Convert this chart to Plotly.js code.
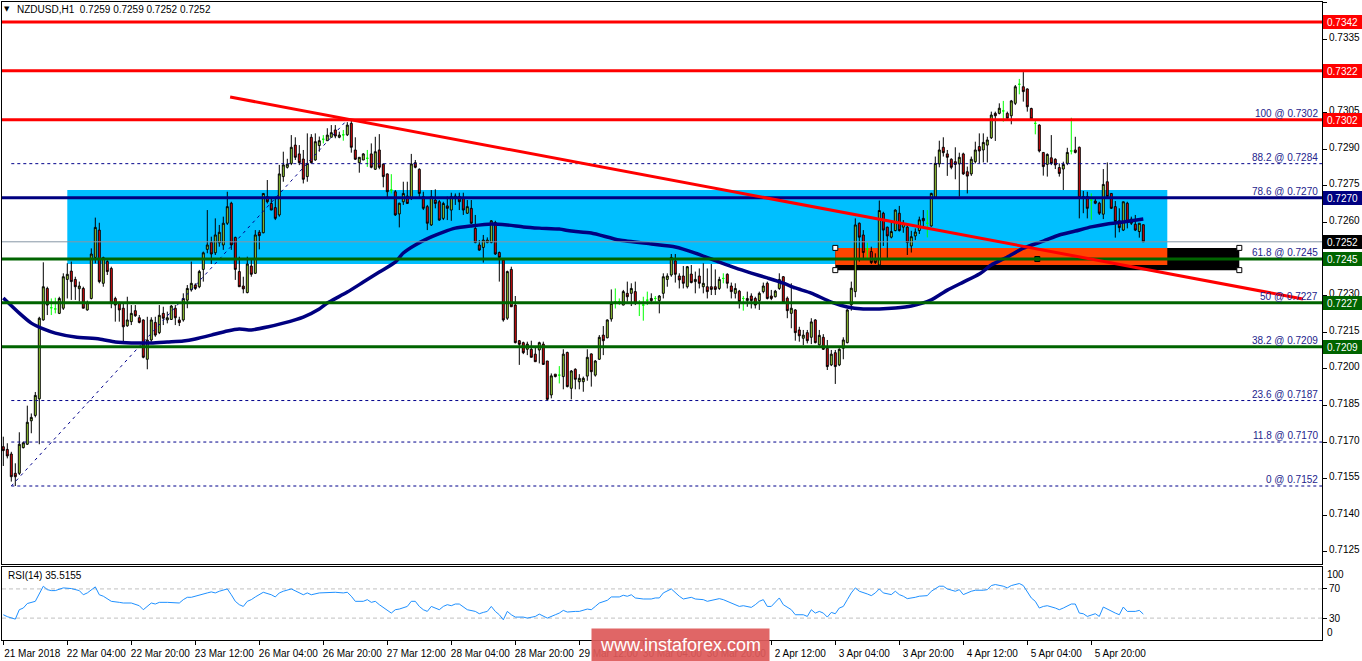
<!DOCTYPE html>
<html><head><meta charset="utf-8">
<script src="https://cdn.plot.ly/plotly-3.0.1.min.js"></script>
<style>html,body{margin:0;padding:0;background:#fff;overflow:hidden}#chart{width:1362px;height:661px}</style>
</head><body><div id="chart"></div>
<script>
// ---------- DATA ----------
const symbolTitle = 'NZDUSD,H1\u00a0\u00a00.7259 0.7259 0.7252 0.7252';
const rsiTitle = 'RSI(14) 35.5155';

// H1 bars, index 0 = 21 Mar 2018 12:00
const openP = [
0.71681,0.71670,0.71651,0.71572,0.71572,0.71677,0.71691,0.71787,0.71809,0.71877,
0.72200,0.72329,0.72250,0.72245,0.72227,0.72248,0.72366,0.72400,0.72366,0.72328,
0.72329,0.72241,0.72288,0.72456,0.72568,0.72350,0.72439,0.72411,0.72288,0.72268,
0.72248,0.72176,0.72193,0.72238,0.72209,0.72200,0.72039,0.72118,0.72190,0.72148,
0.72227,0.72200,0.72202,0.72248,0.72200,0.72200,0.72281,0.72323,0.72343,0.72336,
0.72407,0.72489,0.72518,0.72475,0.72516,0.72507,0.72596,0.72678,0.72538,0.72398,
0.72339,0.72312,0.72421,0.72391,0.72559,0.72557,0.72705,0.72677,0.72660,0.72630,
0.72787,0.72825,0.72841,0.72916,0.72880,0.72859,0.72787,0.72948,0.72855,0.72914,
0.72940,0.72934,0.72948,0.72978,0.72948,0.72958,0.72958,0.73005,0.72896,0.72844,
0.72855,0.72862,0.72880,0.72817,0.72896,0.72838,0.72798,0.72732,0.72725,0.72634,
0.72684,0.72707,0.72698,0.72844,0.72817,0.72705,0.72664,0.72589,0.72691,0.72684,
0.72616,0.72667,0.72650,0.72698,0.72705,0.72698,0.72637,0.72657,0.72575,0.72507,
0.72497,0.72517,0.72517,0.72599,0.72476,0.72445,0.72207,0.72407,0.72261,0.72115,
0.72107,0.72080,0.72080,0.72060,0.72077,0.72101,0.72032,0.71893,0.71978,0.71974,
0.71968,0.72067,0.71920,0.71998,0.71947,0.71947,0.71970,0.72061,0.71974,0.72039,
0.72138,0.72127,0.72204,0.72275,0.72275,0.72261,0.72309,0.72309,0.72316,0.72268,
0.72261,0.72281,0.72288,0.72288,0.72279,0.72309,0.72366,0.72384,0.72442,0.72380,
0.72380,0.72336,0.72388,0.72357,0.72380,0.72336,0.72336,0.72336,0.72336,0.72329,
0.72370,0.72387,0.72339,0.72309,0.72318,0.72288,0.72279,0.72298,0.72288,0.72279,
0.72316,0.72350,0.72298,0.72295,0.72329,0.72377,0.72289,0.72227,0.72241,0.72159,
0.72125,0.72148,0.72129,0.72200,0.72098,0.72129,0.72084,0.72016,0.72066,0.72016,
0.72084,0.72107,0.72262,0.72316,0.72596,0.72548,0.72490,0.72480,0.72452,0.72425,
0.72637,0.72580,0.72539,0.72566,0.72637,0.72580,0.72580,0.72503,0.72544,0.72566,
0.72616,0.72596,0.72585,0.72703,0.72839,0.72907,0.72880,0.72858,0.72848,0.72839,
0.72880,0.72807,0.72798,0.72848,0.72910,0.72896,0.72916,0.72946,0.73046,0.73046,
0.73056,0.73046,0.73036,0.73087,0.73165,0.73155,0.73146,0.73066,0.73005,0.72998,
0.72886,0.72837,0.72864,0.72858,0.72824,0.72818,0.72841,0.72892,0.72896,0.72907,
0.72705,0.72705,0.72691,0.72687,0.72678,0.72633,0.72766,0.72718,0.72664,0.72606,
0.72568,0.72678,0.72613,0.72592,0.72562,0.72590];
const highP = [
0.71722,0.71695,0.71660,0.71613,0.71740,0.71702,0.71849,0.71817,0.71905,0.72213,
0.72436,0.72336,0.72288,0.72291,0.72295,0.72391,0.72432,0.72439,0.72377,0.72357,
0.72336,0.72279,0.72493,0.72619,0.72598,0.72459,0.72452,0.72418,0.72295,0.72275,
0.72268,0.72295,0.72261,0.72261,0.72220,0.72202,0.72213,0.72211,0.72213,0.72261,
0.72254,0.72234,0.72261,0.72261,0.72213,0.72309,0.72343,0.72439,0.72350,0.72405,
0.72480,0.72650,0.72541,0.72616,0.72589,0.72623,0.72725,0.72684,0.72541,0.72459,
0.72377,0.72459,0.72452,0.72568,0.72568,0.72718,0.72773,0.72698,0.72705,0.72835,
0.72889,0.72860,0.72957,0.72948,0.72916,0.72896,0.72964,0.72961,0.72964,0.72951,
0.72957,0.72985,0.72998,0.72998,0.72971,0.72978,0.73010,0.73020,0.72948,0.72866,
0.72883,0.72896,0.72923,0.72950,0.72961,0.72841,0.72800,0.72797,0.72732,0.72680,
0.72766,0.72766,0.72880,0.72855,0.72821,0.72725,0.72671,0.72732,0.72735,0.72691,
0.72684,0.72705,0.72721,0.72718,0.72721,0.72721,0.72691,0.72691,0.72630,0.72527,
0.72548,0.72538,0.72609,0.72606,0.72480,0.72445,0.72402,0.72418,0.72298,0.72118,
0.72111,0.72111,0.72115,0.72090,0.72111,0.72111,0.72032,0.71981,0.71978,0.72011,
0.72080,0.72070,0.71995,0.72002,0.71978,0.71968,0.72080,0.72063,0.72036,0.72138,
0.72175,0.72202,0.72325,0.72329,0.72288,0.72323,0.72357,0.72350,0.72357,0.72281,
0.72295,0.72316,0.72309,0.72298,0.72302,0.72391,0.72391,0.72470,0.72470,0.72391,
0.72421,0.72421,0.72425,0.72398,0.72411,0.72432,0.72411,0.72429,0.72407,0.72377,
0.72391,0.72391,0.72353,0.72350,0.72323,0.72298,0.72316,0.72309,0.72295,0.72316,
0.72353,0.72357,0.72323,0.72323,0.72391,0.72380,0.72296,0.72350,0.72244,0.72172,
0.72159,0.72159,0.72207,0.72203,0.72159,0.72142,0.72118,0.72077,0.72077,0.72084,
0.72129,0.72244,0.72357,0.72616,0.72599,0.72568,0.72517,0.72500,0.72473,0.72689,
0.72643,0.72582,0.72602,0.72653,0.72667,0.72609,0.72589,0.72565,0.72575,0.72623,
0.72650,0.72650,0.72721,0.72869,0.72934,0.72948,0.72896,0.72862,0.72907,0.72885,
0.72885,0.72828,0.72869,0.72930,0.72964,0.72964,0.72950,0.73053,0.73053,0.73087,
0.73097,0.73053,0.73101,0.73162,0.73187,0.73215,0.73148,0.73069,0.73023,0.73001,
0.72886,0.72882,0.72957,0.72862,0.72841,0.72848,0.72905,0.73028,0.72950,0.72910,
0.72728,0.72725,0.72718,0.72698,0.72684,0.72818,0.72845,0.72718,0.72687,0.72657,
0.72684,0.72684,0.72623,0.72630,0.72596,0.72590];
const lowP = [
0.71602,0.71633,0.71538,0.71520,0.71565,0.71674,0.71688,0.71736,0.71801,0.71691,
0.72197,0.72220,0.72220,0.72227,0.72224,0.72241,0.72288,0.72282,0.72282,0.72275,
0.72248,0.72238,0.72284,0.72432,0.72350,0.72336,0.72384,0.72248,0.72193,0.72193,
0.72111,0.72172,0.72179,0.72213,0.72186,0.72043,0.71998,0.72111,0.72131,0.72142,
0.72179,0.72186,0.72200,0.72179,0.72175,0.72193,0.72248,0.72316,0.72323,0.72330,
0.72357,0.72473,0.72429,0.72466,0.72500,0.72487,0.72589,0.72487,0.72364,0.72336,
0.72309,0.72309,0.72377,0.72388,0.72489,0.72555,0.72677,0.72650,0.72609,0.72623,
0.72766,0.72820,0.72834,0.72855,0.72834,0.72759,0.72766,0.72841,0.72852,0.72889,
0.72923,0.72934,0.72948,0.72944,0.72944,0.72934,0.72953,0.72885,0.72855,0.72803,
0.72855,0.72827,0.72821,0.72814,0.72817,0.72743,0.72702,0.72718,0.72626,0.72579,
0.72671,0.72677,0.72691,0.72821,0.72698,0.72650,0.72568,0.72585,0.72657,0.72606,
0.72609,0.72609,0.72606,0.72671,0.72650,0.72630,0.72634,0.72593,0.72514,0.72483,
0.72435,0.72514,0.72514,0.72466,0.72357,0.72193,0.72200,0.72254,0.72104,0.72016,
0.72060,0.72056,0.72047,0.72029,0.72022,0.72016,0.71872,0.71879,0.71965,0.71940,
0.71916,0.71924,0.71875,0.71916,0.71916,0.71906,0.71951,0.71927,0.71968,0.72036,
0.72056,0.72125,0.72193,0.72247,0.72261,0.72260,0.72275,0.72257,0.72261,0.72216,
0.72197,0.72261,0.72265,0.72275,0.72227,0.72288,0.72336,0.72377,0.72353,0.72329,
0.72329,0.72329,0.72350,0.72309,0.72329,0.72309,0.72288,0.72302,0.72302,0.72323,
0.72350,0.72329,0.72288,0.72288,0.72247,0.72238,0.72254,0.72247,0.72247,0.72241,
0.72309,0.72284,0.72281,0.72292,0.72323,0.72268,0.72207,0.72166,0.72115,0.72111,
0.72097,0.72104,0.72101,0.72104,0.72094,0.72077,0.71995,0.72011,0.71938,0.72011,
0.72039,0.72104,0.72238,0.72293,0.72439,0.72452,0.72452,0.72429,0.72429,0.72421,
0.72503,0.72452,0.72534,0.72563,0.72562,0.72557,0.72466,0.72476,0.72527,0.72552,
0.72579,0.72538,0.72582,0.72698,0.72825,0.72869,0.72790,0.72817,0.72776,0.72705,
0.72794,0.72718,0.72790,0.72841,0.72841,0.72845,0.72845,0.72941,0.72933,0.73042,
0.73012,0.73023,0.73001,0.73080,0.73124,0.73094,0.73053,0.73019,0.72960,0.72886,
0.72791,0.72787,0.72834,0.72818,0.72787,0.72732,0.72834,0.72878,0.72882,0.72616,
0.72637,0.72616,0.72610,0.72674,0.72630,0.72613,0.72698,0.72654,0.72537,0.72559,
0.72564,0.72575,0.72589,0.72564,0.72537,0.72520];
const closeP = [
0.71665,0.71643,0.71558,0.71558,0.71691,0.71697,0.71781,0.71801,0.71891,0.72207,
0.72336,0.72261,0.72250,0.72245,0.72288,0.72377,0.72387,0.72357,0.72336,0.72339,
0.72248,0.72271,0.72470,0.72579,0.72357,0.72455,0.72398,0.72268,0.72261,0.72241,
0.72172,0.72200,0.72227,0.72217,0.72190,0.72047,0.72118,0.72200,0.72138,0.72219,
0.72207,0.72209,0.72257,0.72209,0.72189,0.72288,0.72329,0.72350,0.72329,0.72398,
0.72475,0.72507,0.72470,0.72548,0.72559,0.72596,0.72664,0.72507,0.72407,0.72336,
0.72327,0.72429,0.72387,0.72548,0.72545,0.72718,0.72684,0.72650,0.72616,0.72798,
0.72835,0.72838,0.72907,0.72866,0.72844,0.72776,0.72841,0.72844,0.72930,0.72934,
0.72940,0.72957,0.72967,0.72953,0.72957,0.72958,0.72998,0.72907,0.72858,0.72866,
0.72880,0.72862,0.72825,0.72889,0.72825,0.72787,0.72725,0.72732,0.72630,0.72678,
0.72718,0.72677,0.72839,0.72825,0.72718,0.72657,0.72596,0.72705,0.72677,0.72609,
0.72677,0.72657,0.72705,0.72707,0.72684,0.72650,0.72664,0.72596,0.72517,0.72486,
0.72527,0.72527,0.72606,0.72470,0.72456,0.72200,0.72398,0.72254,0.72107,0.72100,
0.72066,0.72101,0.72047,0.72029,0.72107,0.72018,0.71875,0.71971,0.71968,0.71974,
0.72060,0.71927,0.71991,0.71957,0.71961,0.71961,0.72047,0.71988,0.72032,0.72129,
0.72115,0.72200,0.72268,0.72275,0.72275,0.72316,0.72295,0.72329,0.72268,0.72268,
0.72261,0.72281,0.72279,0.72288,0.72298,0.72377,0.72380,0.72456,0.72387,0.72364,
0.72350,0.72418,0.72353,0.72366,0.72350,0.72350,0.72316,0.72325,0.72325,0.72366,
0.72370,0.72350,0.72316,0.72329,0.72275,0.72288,0.72288,0.72279,0.72261,0.72309,
0.72339,0.72288,0.72288,0.72318,0.72366,0.72271,0.72238,0.72248,0.72148,0.72135,
0.72138,0.72115,0.72192,0.72107,0.72137,0.72080,0.72009,0.72060,0.72009,0.72080,
0.72118,0.72241,0.72330,0.72589,0.72539,0.72476,0.72490,0.72435,0.72435,0.72648,
0.72568,0.72544,0.72562,0.72650,0.72566,0.72596,0.72517,0.72541,0.72560,0.72610,
0.72606,0.72596,0.72718,0.72841,0.72896,0.72885,0.72866,0.72825,0.72837,0.72866,
0.72798,0.72789,0.72858,0.72896,0.72892,0.72927,0.72937,0.73039,0.73036,0.73067,
0.73056,0.73026,0.73097,0.73155,0.73165,0.73135,0.73073,0.73023,0.73005,0.72892,
0.72828,0.72878,0.72841,0.72835,0.72800,0.72837,0.72886,0.72892,0.72886,0.72701,
0.72698,0.72657,0.72691,0.72678,0.72637,0.72755,0.72705,0.72657,0.72603,0.72578,
0.72684,0.72603,0.72596,0.72568,0.72596,0.72520];

// moving average line, readings [bar, price]
const maReadings = [
[0,0.72290],[4,0.72228],[7,0.72187],[10,0.72163],[13,0.72146],[18,0.72130],[24,0.72122],[28,0.72110],[32,0.72106],[37,0.72106],
[41,0.72110],[45,0.72114],[48,0.72122],[52,0.72138],[56,0.72155],[59,0.72163],[62,0.72159],[66,0.72171],[70,0.72187],[75,0.72212],
[79,0.72245],[81,0.72269],[86,0.72314],[90,0.72355],[94,0.72396],[98,0.72437],[100,0.72474],[103,0.72507],[107,0.72540],[110,0.72560],
[113,0.72576],[117,0.72585],[122,0.72593],[126,0.72589],[130,0.72581],[134,0.72576],[139,0.72572],[142,0.72564],[147,0.72556],[154,0.72527],
[162,0.72511],[168,0.72499],[173,0.72474],[179,0.72437],[183,0.72413],[187,0.72392],[191,0.72372],[195,0.72351],[198,0.72331],[202,0.72310],
[207,0.72273],[211,0.72253],[215,0.72245],[219,0.72245],[223,0.72249],[227,0.72257],[232,0.72282],[236,0.72322],[240,0.72355],[244,0.72388],
[247,0.72425],[251,0.72458],[255,0.72494],[260,0.72523],[264,0.72548],[268,0.72564],[272,0.72581],[276,0.72593],[280,0.72601],[285,0.72613]];

// RSI(14) readings [bar, value]
const rsiReadings = [
[0,34.6],[1,32],[3,28.6],[4,41.5],[5,43.8],[6,50],[8,53],[9,64.5],[10,73.7],[11,69],[12,67.7],[13,67.7],[14,70],[15,71.4],[17,70.5],[18,69],[19,67.7],[20,62],[21,64.5],[23,72.8],
[24,62],[25,60],[27,53],[29,51.6],[30,50.7],[32,50.7],[34,47],[35,41.5],[36,46],[37,50.7],[38,49.3],[39,51.6],[41,51.6],[43,51.6],[44,50.7],[45,55.3],[46,58.5],[47,58.5],[49,62],[51,64.5],
[52,65.9],[53,64.5],[54,66.8],[56,70],[57,62],[58,53],[59,48.4],[60,46],[61,53],[62,55.3],[63,59],[65,65.4],[67,62],[68,59],[69,64.5],[70,66.8],[72,70],[73,67.7],[74,64.5],[75,62],
[76,64.5],[77,62],[79,64.5],[81,65.4],[83,65.4],[85,64.5],[86,65.4],[87,60],[88,53],[90,53],[91,55.3],[92,51.6],[93,53],[94,48.4],[95,44.7],[96,41.5],[97,36.9],[98,41.5],[99,42.4],[101,46],
[102,53],[103,53],[104,46],[105,41.5],[106,39.2],[107,46],[109,41.5],[110,46],[111,48.4],[112,47],[113,49.3],[114,49.3],[115,46],[116,41.5],[118,39.2],[119,36],[120,37.8],[121,39.2],[122,46],[123,39.2],
[124,34.6],[125,27.7],[126,39.2],[127,34.6],[128,31.4],[130,31.4],[131,30],[133,32.3],[134,35.5],[136,30],[138,34.6],[139,36.9],[140,40.6],[141,38.3],[143,39.2],[144,39.2],[146,42.4],[147,41.5],[148,46],[149,50.7],
[151,54.4],[152,59],[154,59],[155,61.3],[156,59.9],[157,62],[158,57.6],[160,56.2],[162,56.2],[163,57.6],[164,57.6],[165,64.5],[167,70],[168,64.5],[169,60],[170,56.2],[172,58.5],[173,56.2],[175,55.3],[176,53],
[178,55.3],[179,56.7],[180,55.3],[181,53],[182,50.7],[184,46],[185,47],[187,44.7],[188,48.4],[189,53],[190,55.3],[191,46],[192,46],[193,51.6],[194,57.6],[195,48.4],[197,41.5],[198,34.6],[200,34.6],[201,32.3],
[202,41.5],[203,36.9],[204,39.2],[205,36.9],[206,31.4],[207,37.8],[208,36],[209,43.8],[210,46],[211,55.3],[212,64.5],[213,71.4],[214,66.8],[216,63.1],[217,60.8],[218,64.5],[219,70],[220,64.5],[222,62.2],[223,66.8],
[224,62.2],[225,60],[226,56.7],[228,58.5],[229,60],[231,60.8],[232,66.8],[234,73.7],[235,73.7],[236,70],[238,66.8],[239,69],[240,62.2],[242,66.8],[243,68.2],[245,68.2],[246,69],[247,74.6],[248,76],[250,73.7],
[251,71.4],[252,74.6],[254,77.4],[255,74.6],[256,66.8],[257,57.6],[258,53],[259,43.8],[260,46],[261,47],[263,43.8],[264,41.5],[265,43.8],[267,49.3],[268,49.3],[269,36.9],[270,36],[271,32.3],[273,36],[274,32.3],
[275,45.2],[277,39.2],[278,36.9],[279,34.6],[280,45.2],[281,39.2],[283,39.2],[284,40.6],[285,35.5]];

const timeTickBars = [0,16,32,48,64,80,96,112,128,144,160,176,192,208,224,240,256,272];
const timeTickLabels = ['21 Mar 2018','22 Mar 04:00','22 Mar 20:00','23 Mar 12:00','26 Mar 04:00','26 Mar 20:00','27 Mar 12:00','28 Mar 04:00','28 Mar 20:00','29 Mar 12:00','30 Mar 04:00','30 Mar 20:00','2 Apr 12:00','3 Apr 04:00','3 Apr 20:00','4 Apr 12:00','5 Apr 04:00','5 Apr 20:00'];
const priceTicks = [0.7350,0.7335,0.7320,0.7305,0.7290,0.7275,0.7260,0.7245,0.7230,0.7215,0.7200,0.7185,0.7170,0.7155,0.7140,0.7125];
const rsiTicks = [30,70];

// drawn objects
const redLevels = [0.7342,0.7322,0.7302];
const navyLevels = [0.7270];
const greenLevels = [0.7245,0.7227,0.7209];
const bidLevel = 0.7252;
const fibPercents = ['100','88.2','78.6','61.8','50','38.2','23.6','11.8','0'];
const fibLevels = [0.7302,0.7284,0.7270,0.7245,0.7227,0.7209,0.7187,0.7170,0.7152];
const fibAnchors = [[2,0.7152],[86,0.7302]];
const trendRed = [[56.7,0.73113],[324.9,0.72286]];
const zoneBlue = [16,291,0.72429,0.72732];
const zoneBlack = [208,309,0.72404,0.72495];
const zoneOrange = [208,291,0.72425,0.72495];
const rsiLevels = [30,70];

// ---------- DRAWING ----------
const FONT = 'Liberation Sans, Arial, sans-serif';
const XR = [-0.325, 329.675];
const bars = openP.map((_, i) => i);
const isDoji = bars.map(i => openP[i] === closeP[i]);
const pick = (arr, want) => arr.filter((_, i) => isDoji[i] === want);

const traces = [];
traces.push({type:'scatter', mode:'lines', x: maReadings.map(p=>p[0]), y: maReadings.map(p=>p[1]),
  line:{color:'#000080', width:3.5, shape:'spline', smoothing:0.6}, xaxis:'x', yaxis:'y', hoverinfo:'skip'});
traces.push({type:'candlestick', x: pick(bars,false), open: pick(openP,false), high: pick(highP,false), low: pick(lowP,false), close: pick(closeP,false),
  increasing:{line:{color:'#000000', width:1}, fillcolor:'#a6e23a'},
  decreasing:{line:{color:'#000000', width:1}, fillcolor:'#e80c0c'},
  whiskerwidth:0, xaxis:'x', yaxis:'y', hoverinfo:'skip'});
traces.push({type:'candlestick', x: pick(bars,true), open: pick(openP,true), high: pick(highP,true), low: pick(lowP,true), close: pick(closeP,true),
  increasing:{line:{color:'#00ff00', width:1}, fillcolor:'#00ff00'},
  decreasing:{line:{color:'#00ff00', width:1}, fillcolor:'#00ff00'},
  whiskerwidth:0, xaxis:'x', yaxis:'y', hoverinfo:'skip'});
// selection handles of the black rectangle
const hx = [zoneBlack[0], zoneBlack[0], zoneBlack[1], zoneBlack[1]];
const hy = [zoneBlack[3], zoneBlack[2], zoneBlack[3], zoneBlack[2]];
traces.push({type:'scatter', mode:'markers', x: hx, y: hy, marker:{symbol:'square', size:5, color:'#ffffff', line:{color:'#000', width:1}}, xaxis:'x', yaxis:'y', hoverinfo:'skip', cliponaxis:false});
traces.push({type:'scatter', mode:'markers', x: [(zoneBlack[0]+zoneBlack[1])/2], y: [(zoneBlack[2]+zoneBlack[3])/2], marker:{symbol:'square', size:5, color:'#006400', line:{color:'#000', width:1}}, xaxis:'x', yaxis:'y', hoverinfo:'skip'});
traces.push({type:'scatter', mode:'lines', x: rsiReadings.map(p=>p[0]), y: rsiReadings.map(p=>p[1]),
  line:{color:'#1e90ff', width:1}, xaxis:'x2', yaxis:'y2', hoverinfo:'skip'});

const shapes = [];
const rect = (z, color) => ({type:'rect', xref:'x', yref:'y', x0:z[0], x1:z[1], y0:z[2], y1:z[3], fillcolor:color, line:{width:0}, layer:'below'});
shapes.push(rect(zoneBlue, '#00bfff'));
shapes.push(rect(zoneBlack, '#000000'));
shapes.push(rect(zoneOrange, '#ff4500'));
fibLevels.forEach(l => shapes.push({type:'line', xref:'x', yref:'y', x0:fibAnchors[0][0], x1:XR[1]+1, y0:l, y1:l, line:{color:'#00008b', width:1, dash:'3px,3px'}, layer:'above'}));
shapes.push({type:'line', xref:'x', yref:'y', x0:fibAnchors[0][0], y0:fibAnchors[0][1], x1:fibAnchors[1][0], y1:fibAnchors[1][1], line:{color:'#00008b', width:1, dash:'3px,4px'}, layer:'above'});
const hline = (l, color, w) => ({type:'line', xref:'paper', yref:'y', x0:0, x1:1, y0:l, y1:l, line:{color:color, width:w}, layer:'above'});
shapes.push(hline(bidLevel, '#8796a5', 1));
redLevels.forEach(l => shapes.push(hline(l, '#ff0000', 3)));
navyLevels.forEach(l => shapes.push(hline(l, '#000080', 3)));
greenLevels.forEach(l => shapes.push(hline(l, '#006400', 3)));
shapes.push({type:'line', xref:'x', yref:'y', x0:trendRed[0][0], y0:trendRed[0][1], x1:trendRed[1][0], y1:trendRed[1][1], line:{color:'#ff0000', width:3}, layer:'above'});
rsiLevels.forEach(l => shapes.push({type:'line', xref:'paper', yref:'y2', x0:0, x1:1, y0:l, y1:l, line:{color:'#c0c0c0', width:1, dash:'4px,3px'}, layer:'below'}));

const annotations = [];
fibLevels.forEach((l, i) => annotations.push({xref:'paper', yref:'y', x:1, y:l, xanchor:'right', yanchor:'bottom', xshift:-2, yshift:-1,
  text: fibPercents[i] + ' @ ' + l.toFixed(4), showarrow:false, font:{family:FONT, size:10, color:'#24248c'}}));
const tags = [].concat(
  redLevels.map(l => [l, '#ff0000']), navyLevels.map(l => [l, '#000080']),
  [[bidLevel, '#000000']], greenLevels.map(l => [l, '#006400']));
tags.forEach(t => annotations.push({xref:'paper', yref:'y', x:1, y:t[0], xanchor:'left', yanchor:'middle', xshift:1,
  text: t[0].toFixed(4), showarrow:false, bgcolor:t[1], bordercolor:t[1], borderpad:0, width:37, height:12,
  font:{family:FONT, size:10, color:'#ffffff'}}));
annotations.push({xref:'paper', yref:'paper', x:(7-2)/1320, y:(640-9)/639, xanchor:'center', yanchor:'middle', text:'\u25BC', showarrow:false, font:{family:'DejaVu Sans', size:7, color:'#000'}});
annotations.push({xref:'paper', yref:'paper', x:(15-2)/1320, y:(640-10)/639, xanchor:'left', yanchor:'middle', text:symbolTitle, showarrow:false, font:{family:FONT, size:10, color:'#000'}});
annotations.push({xref:'paper', yref:'paper', x:(6-2)/1320, y:(640-575)/639, xanchor:'left', yanchor:'middle', text:rsiTitle, showarrow:false, font:{family:FONT, size:10, color:'#000'}});
annotations.push({xref:'paper', yref:'y2', x:1, y:100, xanchor:'left', yanchor:'top', xshift:3, text:'100', showarrow:false, font:{family:FONT, size:10, color:'#000'}});
annotations.push({xref:'paper', yref:'y2', x:1, y:0, xanchor:'left', yanchor:'bottom', xshift:3, text:'0', showarrow:false, font:{family:FONT, size:10, color:'#000'}});
annotations.push({xref:'paper', yref:'paper', x:(680.5-2)/1320, y:(640-645)/639, xanchor:'center', yanchor:'middle',
  text:'www.instaforex.com', showarrow:false, bgcolor:'rgba(222,90,90,0.93)', width:175, height:30,
  font:{family:FONT, size:18, color:'#ffffff'}});

const axBase = {showgrid:false, zeroline:false, showline:true, mirror:true, linecolor:'#000', linewidth:1, fixedrange:true,
  tickfont:{family:FONT, size:10, color:'#000'}, tickcolor:'#000'};
const layout = {
  width:1362, height:661,
  margin:{l:2, r:40, t:1, b:21, pad:0},
  paper_bgcolor:'#ffffff', plot_bgcolor:'#ffffff',
  showlegend:false, dragmode:false, hovermode:false,
  font:{family:FONT, size:10, color:'#000'},
  xaxis: Object.assign({}, axBase, {domain:[0,1], range:XR, anchor:'y', ticks:'', showticklabels:false, rangeslider:{visible:false}}),
  yaxis: Object.assign({}, axBase, {domain:[0.1189,0.9984], range:[0.712005,0.735019], anchor:'x', side:'right',
    tickvals:priceTicks, ticktext:priceTicks.map(v=>v.toFixed(4)), ticks:'outside', ticklen:4, ticklabelshift:-2}),
  xaxis2: Object.assign({}, axBase, {domain:[0,1], range:XR, anchor:'y2', tickvals:timeTickBars, ticktext:timeTickLabels,
    ticks:'outside', ticklen:4, tickangle:0, ticklabelshift:29}),
  yaxis2: Object.assign({}, axBase, {domain:[0,0.1142], range:[0,100], anchor:'x2', side:'right',
    tickvals:rsiTicks, ticktext:rsiTicks.map(String), ticks:'outside', ticklen:4}),
  shapes: shapes,
  annotations: annotations
};
Plotly.newPlot('chart', traces, layout, {staticPlot:true, displayModeBar:false});
</script>
</body></html>
